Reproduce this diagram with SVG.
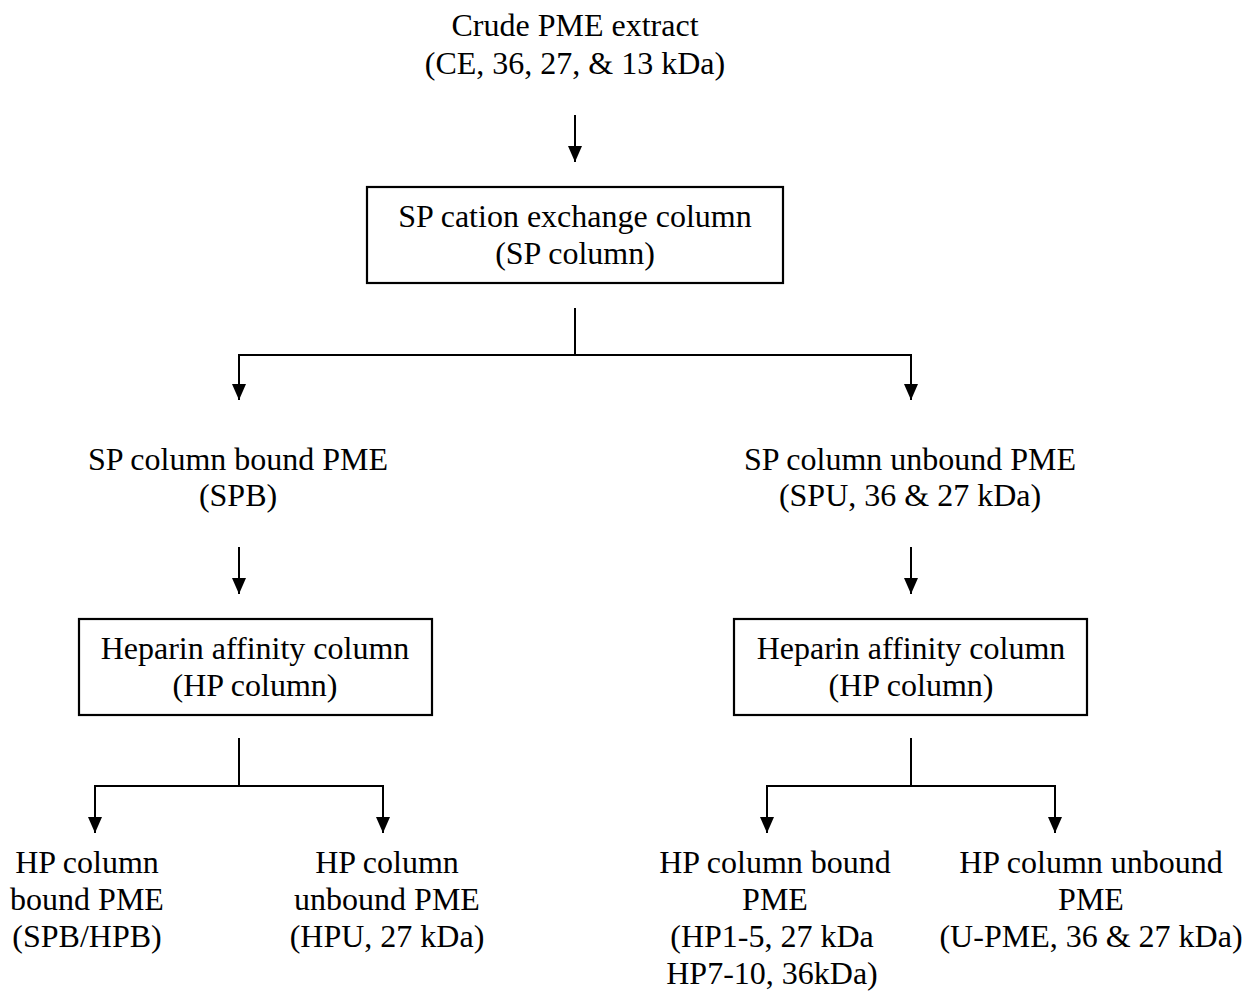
<svg xmlns="http://www.w3.org/2000/svg" width="1257" height="993" viewBox="0 0 1257 993">
<style>
text{font-family:"Liberation Serif","Times New Roman",serif;font-size:32px;fill:#000;text-anchor:middle}
.box{fill:#fff;stroke:#000;stroke-width:2.2}
.ln{fill:none;stroke:#000;stroke-width:2}
.ar{fill:none;stroke:#000;stroke-width:2;marker-end:url(#ah)}
</style>
<defs>
<marker id="ah" viewBox="0 0 16 14" refX="16" refY="7" markerWidth="16" markerHeight="14" markerUnits="userSpaceOnUse" orient="auto">
<path d="M0,0 L16,7 L0,14 z" fill="#000"/>
</marker>
</defs>
<rect width="1257" height="993" fill="#fff"/>
<g id="connectors">
<line class="ar" x1="575" y1="115" x2="575" y2="162"/>
<line class="ln" x1="575" y1="308" x2="575" y2="355"/>
<polyline class="ln" points="239,355 911,355"/>
<line class="ar" x1="239" y1="354" x2="239" y2="400"/>
<line class="ar" x1="911" y1="354" x2="911" y2="400"/>
<line class="ar" x1="239" y1="547" x2="239" y2="594"/>
<line class="ar" x1="911" y1="547" x2="911" y2="594"/>
<line class="ln" x1="239" y1="738" x2="239" y2="786"/>
<polyline class="ln" points="95,786 383,786"/>
<line class="ar" x1="95" y1="785" x2="95" y2="833"/>
<line class="ar" x1="383" y1="785" x2="383" y2="833"/>
<line class="ln" x1="911" y1="738" x2="911" y2="786"/>
<polyline class="ln" points="767,786 1055,786"/>
<line class="ar" x1="767" y1="785" x2="767" y2="833"/>
<line class="ar" x1="1055" y1="785" x2="1055" y2="833"/>
</g>
<g id="crude">
<text x="575" y="36">Crude PME extract</text>
<text x="575" y="74">(CE, 36, 27, &amp; 13 kDa)</text>
</g>
<g id="sp-column">
<rect class="box" x="367" y="187" width="416" height="96"/>
<text x="575" y="227">SP cation exchange column</text>
<text x="575" y="264">(SP column)</text>
</g>
<g id="spb">
<text x="238" y="470">SP column bound PME</text>
<text x="238" y="506">(SPB)</text>
</g>
<g id="spu">
<text x="910" y="470">SP column unbound PME</text>
<text x="910" y="506">(SPU, 36 &amp; 27 kDa)</text>
</g>
<g id="hp-left">
<rect class="box" x="79" y="619" width="353" height="96"/>
<text x="255" y="659">Heparin affinity column</text>
<text x="255" y="696">(HP column)</text>
</g>
<g id="hp-right">
<rect class="box" x="734" y="619" width="353" height="96"/>
<text x="911" y="659">Heparin affinity column</text>
<text x="911" y="696">(HP column)</text>
</g>
<g id="spb-hpb">
<text x="87" y="873">HP column</text>
<text x="87" y="910">bound PME</text>
<text x="87" y="947">(SPB/HPB)</text>
</g>
<g id="hpu">
<text x="387" y="873">HP column</text>
<text x="387" y="910">unbound PME</text>
<text x="387" y="947">(HPU, 27 kDa)</text>
</g>
<g id="hp-bound">
<text x="775" y="873">HP column bound</text>
<text x="775" y="910">PME</text>
<text x="772" y="947">(HP1-5, 27 kDa</text>
<text x="772" y="984">HP7-10, 36kDa)</text>
</g>
<g id="u-pme">
<text x="1091" y="873">HP column unbound</text>
<text x="1091" y="910">PME</text>
<text x="1091" y="947">(U-PME, 36 &amp; 27 kDa)</text>
</g>
</svg>
